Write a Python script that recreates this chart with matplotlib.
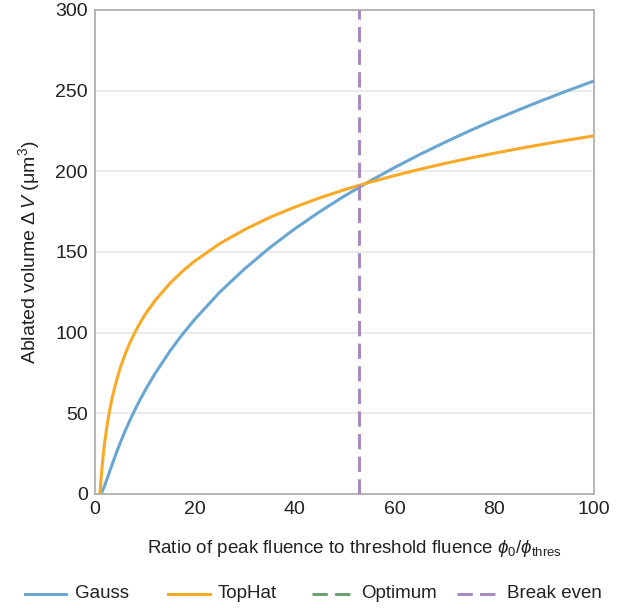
import numpy as np
import matplotlib.pyplot as plt
from matplotlib.lines import Line2D

plt.rcParams['font.family'] = ['Liberation Sans', 'DejaVu Sans']
plt.rcParams['mathtext.fontset'] = 'custom'
plt.rcParams['mathtext.rm'] = 'Liberation Sans'
plt.rcParams['mathtext.it'] = 'Liberation Sans:italic'
plt.rcParams['mathtext.fallback'] = 'stixsans'

# fluence ratio phi0 / phi_thres
ratio = [1, 1.1, 1.25, 1.5, 1.75, 2, 2.5, 3, 3.5, 4, 5, 6, 7, 8, 9, 10, 12, 15,
         17.5, 20, 25, 30, 35, 40, 45, 50, 55, 60, 65, 70, 75, 80, 85, 90, 95,
         100]
# ablated volume (um^3)
gauss = [0, 0.1, 0.6, 2.0, 3.8, 5.8, 10.1, 14.6, 18.9, 23.2, 31.3, 38.8, 45.7,
         52.2, 58.3, 64.0, 74.5, 88.5, 98.9, 108.3, 125.1, 139.6, 152.6, 164.3,
         174.9, 184.7, 193.8, 202.3, 210.3, 217.8, 225.0, 231.8, 238.2, 244.4,
         250.3, 256.0]
tophat = [0, 4.6, 10.8, 19.5, 27.0, 33.4, 44.2, 53.0, 60.4, 66.8, 77.6, 86.4,
          93.8, 100.2, 105.9, 111.0, 119.8, 130.5, 138.0, 144.4, 155.2, 163.9,
          171.4, 177.8, 183.5, 188.6, 193.2, 197.3, 201.2, 204.8, 208.1, 211.2,
          214.1, 216.9, 219.5, 222.0]
break_even = 53

legend_labels = ['Gauss', 'TopHat', 'Optimum', 'Break even']

c_gauss = '#6aa6d2'
c_top = '#f8a925'
c_opt = '#6e9f72'
c_break = '#a68ac0'
dash = (0, (5, 2.4))

W, H = 621, 608
fig = plt.figure(figsize=(W / 100, H / 100), dpi=100)
ax = fig.add_axes([0.153, 0.1875, 0.8035, 0.7961])

ax.plot(ratio, gauss, color=c_gauss, lw=2.2, zorder=3)
ax.plot(ratio, tophat, color=c_top, lw=2.2, zorder=3)
ax.axvline(break_even, color=c_break, lw=2.2, ls=dash, zorder=4)

ax.set_xlim(0, 100)
ax.set_ylim(0, 300)
ax.set_xticks([0, 20, 40, 60, 80, 100])
ax.set_yticks([0, 50, 100, 150, 200, 250, 300])
ax.grid(axis='y', color='#e8e8e8', lw=1.2, zorder=0)
ax.tick_params(length=0, labelsize=14, pad=5, colors='#222222')
for s in ax.spines.values():
    s.set_color('#b0b0b0')
    s.set_linewidth(1.3)

ax.set_xlabel(r'Ratio of peak fluence to threshold fluence $\phi_0/\phi_{\rm thres}$',
              fontsize=13.5, color='#222222', labelpad=12)
ax.xaxis.set_label_coords(0.52, -0.09)
ax.set_ylabel(r'Ablated volume $\Delta\,V$ ($\rm\mu m^3$)', fontsize=14,
              color='#222222', labelpad=10)

# legend row under the axes (pixel positions of handle start/end and text)
entries = [
    (25, 66, 75, c_gauss, '-'),
    (168, 210, 218, c_top, '-'),
    (312, 355, 361, c_opt, dash),
    (457, 499, 507, c_break, dash),
]
ly = (H - 594) / H
for (x0, x1, xt, col, ls), lab in zip(entries, legend_labels):
    fig.add_artist(Line2D([x0 / W, x1 / W], [ly, ly], color=col, lw=2.2, ls=ls,
                          transform=fig.transFigure))
    fig.text(xt / W, ly, lab, fontsize=13.5, color='#222222', va='center',
             ha='left')

fig.savefig('out.png', dpi=100)
